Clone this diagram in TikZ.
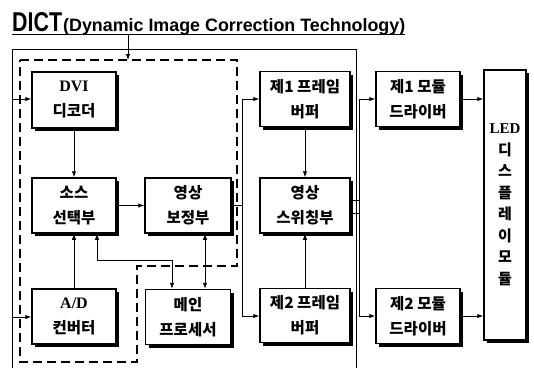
\documentclass[tikz,border=0pt]{standalone}
\usepackage{fontspec}
\setmainfont{Liberation Serif}
\newfontfamily\kr{Noto Sans CJK KR}
\newfontfamily\ttl{Liberation Sans}
\usetikzlibrary{arrows.meta,shadows}
\begin{document}
\begin{tikzpicture}[x=1pt,y=-1pt,
  blk/.style={draw,line width=1.5pt,fill=white,align=center,inner sep=0pt,
    font=\kr\bfseries\fontsize{15.5}{25}\selectfont,
    drop shadow={shadow xshift=3pt,shadow yshift=-3pt,opacity=1,fill=black}},
  con/.style={line width=0.9pt},
  arr/.style={con,-{Latex[length=6pt,width=4.5pt]}},
  darr/.style={con,{Latex[length=6pt,width=4.5pt]}-{Latex[length=6pt,width=4.5pt]}},
  frame/.style={line width=1pt},
  dashframe/.style={line width=1.2pt,dash pattern=on 9pt off 5pt}]
\useasboundingbox (0,0) rectangle (534,368);
% title
\node[anchor=base west,inner sep=0pt,font=\ttl\bfseries] (t1) at (12,31) {\resizebox{50pt}{19pt}{DICT}};
\node[anchor=base west,inner sep=0pt,font=\ttl\bfseries] (t2) at (63,31) {\resizebox{342pt}{13pt}{\fontsize{15}{15}\selectfont(Dynamic Image Correction Technology)}};
\draw[line width=1.5pt] (12,34.5) -- (405,34.5);
% frames
\draw[frame] (12,368) -- (12,49) -- (356,49) -- (356,368);
\draw[dashframe] (20,60) -- (237,60) -- (237,266) -- (137,266) -- (137,362) -- (20,362) -- cycle;
\coordinate (tp) at (128,35);
\coordinate (tpe) at (128,60);
\draw[arr] (tp) -- (tpe);
% boxes
\node[blk,minimum width=84pt,minimum height=56pt] (dvi) at (74,100) {{\rmfamily\fontsize{16}{16}\selectfont DVI}\\디코더};
\node[blk,minimum width=84pt,minimum height=55pt] (src) at (74,205.5) {소스\\선택부};
\node[blk,minimum width=86pt,minimum height=55pt] (corr) at (188,205.5) {영상\\보정부};
\node[blk,minimum width=84pt,minimum height=55pt] (ad) at (74,316.5) {{\rmfamily\fontsize{16}{16}\selectfont A/D}\\컨버터};
\node[blk,minimum width=85pt,minimum height=55pt] (mp) at (188,317) {메인\\프로세서};
\node[blk,minimum width=90pt,minimum height=55pt] (fb1) at (305,99) {제1 프레임\\버퍼};
\node[blk,minimum width=90pt,minimum height=55pt] (sw) at (305,205.5) {영상\\스위칭부};
\node[blk,minimum width=90pt,minimum height=54pt] (fb2) at (305,315.5) {제2 프레임\\버퍼};
\node[blk,minimum width=84pt,minimum height=55pt] (md1) at (418,99) {제1 모듈\\드라이버};
\node[blk,minimum width=84pt,minimum height=55pt] (md2) at (418,316) {제2 모듈\\드라이버};
\node[blk,minimum width=42pt,minimum height=270pt,font=\kr\bfseries\fontsize{15}{21.5}\selectfont] (led) at (505,205) {{\rmfamily LED}\\디\\스\\플\\레\\이\\모\\듈};
% left inputs
\coordinate (l1) at (12,99);
\coordinate (l2) at (12,317);
\draw[arr] (l1) -- (l1 -| dvi.west);
\draw[arr] (l2) -- (l2 -| ad.west);
% inner connections
\draw[arr] (dvi) -- (src);
\draw[arr] (ad) -- (src);
\draw[arr] (src) -- (corr);
\draw[darr] ([xshift=23pt]src.south) -- ++(0,27) -| ([xshift=-16pt]mp.north);
\draw[darr] ([xshift=17pt]corr.south) -- ([xshift=17pt]mp.north);
% bus 1
\coordinate (b1t) at (242,99);
\coordinate (b1m) at (242,205.5);
\coordinate (b1b) at (242,316);
\draw[con] (corr.east) -- (b1m);
\draw[con] (b1t) -- (b1b);
\draw[arr] (b1t) -- (b1t -| fb1.west);
\draw[arr] (b1b) -- (b1b -| fb2.west);
\draw[arr] (fb1) -- (sw);
\draw[arr] (fb2) -- (sw);
% bus 2
\coordinate (b2t) at (359,99);
\coordinate (b2b) at (359,316);
\coordinate (s1) at (359,200);
\coordinate (s2) at (359,213);
\draw[con] (sw.east |- s1) -- (s1);
\draw[con] (sw.east |- s2) -- (s2);
\draw[con] (b2t) -- (b2b);
\draw[arr] (b2t) -- (b2t -| md1.west);
\draw[arr] (b2b) -- (b2b -| md2.west);
\draw[arr] (md1) -- (md1 -| led.west);
\draw[arr] (md2) -- (md2 -| led.west);
\end{tikzpicture}
\end{document}
